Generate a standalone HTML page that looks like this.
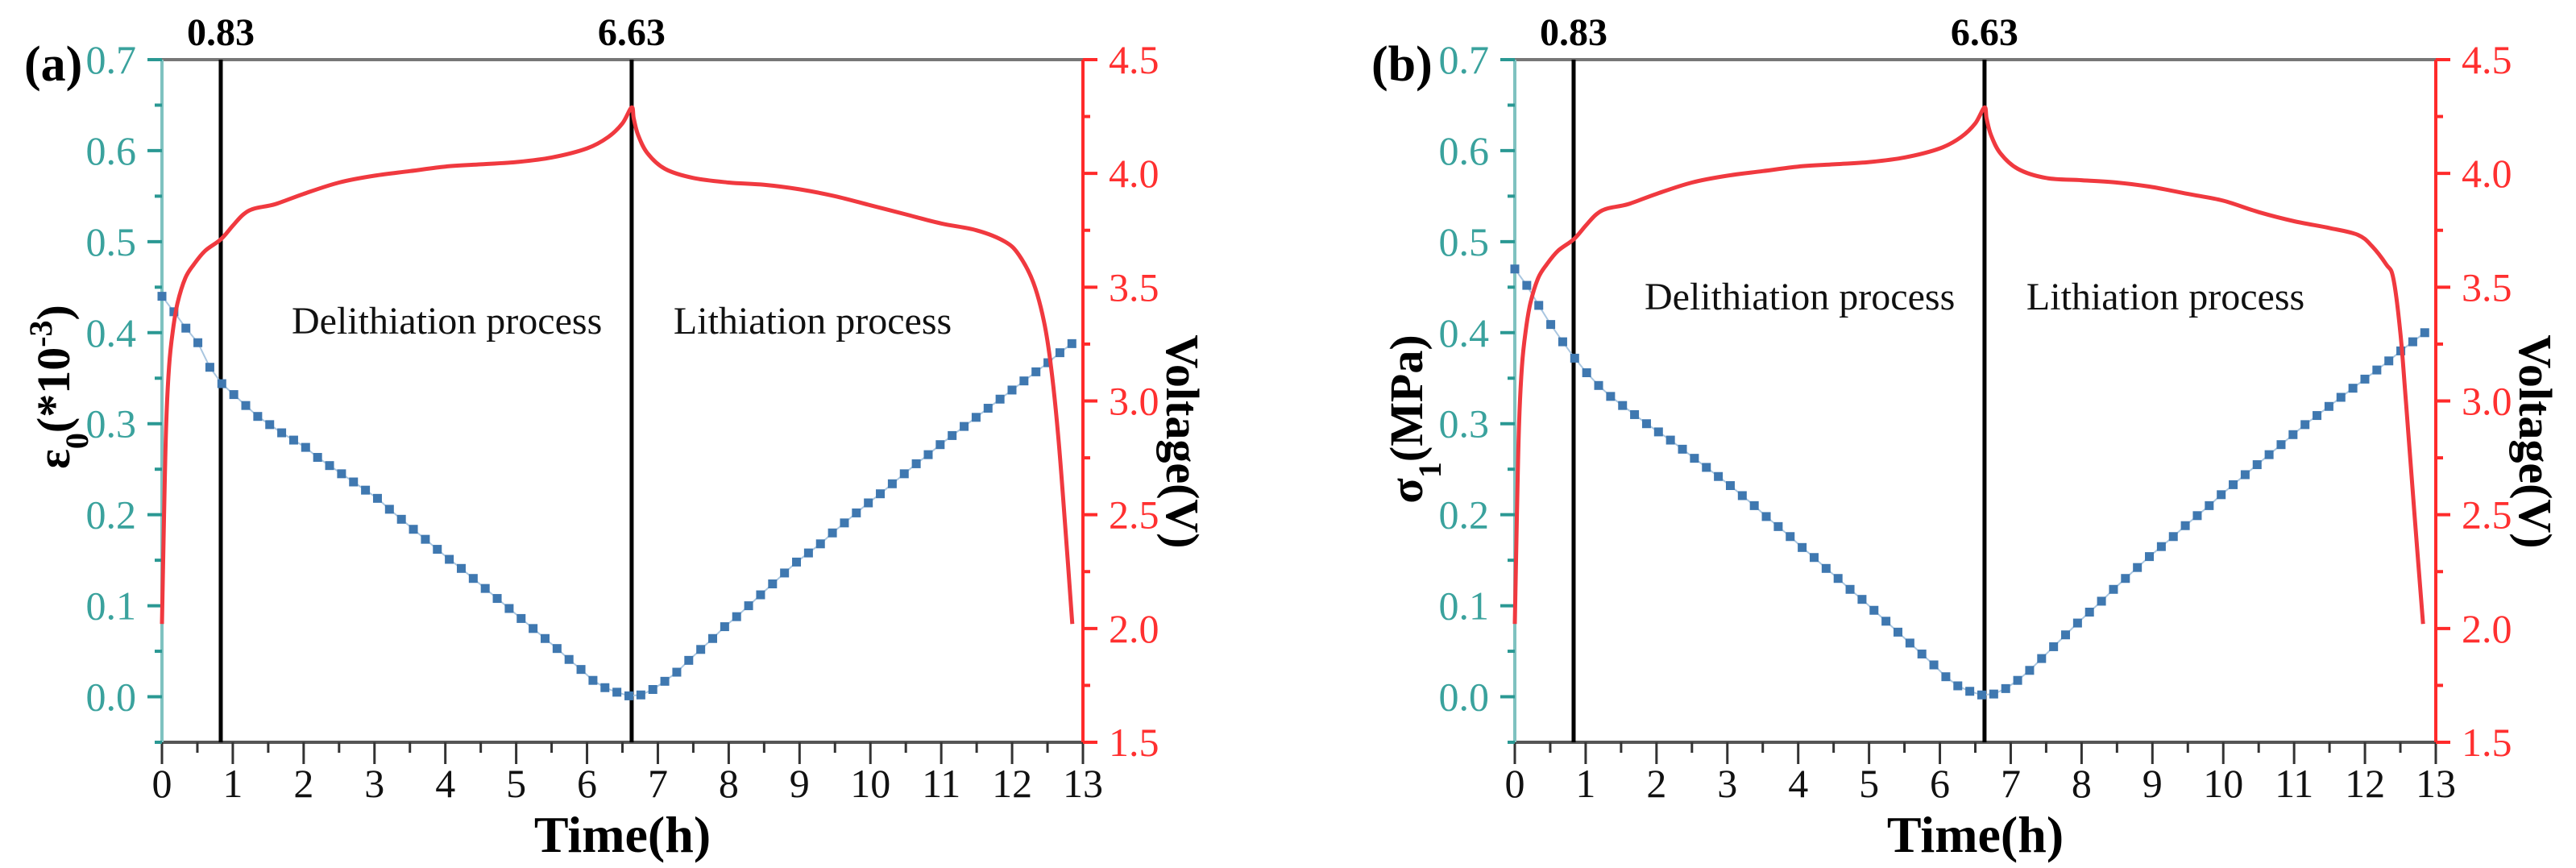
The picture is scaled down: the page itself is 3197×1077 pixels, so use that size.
<!DOCTYPE html>
<html><head><meta charset="utf-8"><style>
html,body{margin:0;padding:0;background:#fff}
svg{display:block}
text{font-family:"Liberation Serif",serif}
</style></head><body>
<svg id="fig" width="3197" height="1077" xmlns="http://www.w3.org/2000/svg"></svg>
<script>
// ---- data ----
const xTicks = [0,1,2,3,4,5,6,7,8,9,10,11,12,13];
const leftTicks = ["0.0","0.1","0.2","0.3","0.4","0.5","0.6","0.7"];
const rightTicks = ["1.5","2.0","2.5","3.0","3.5","4.0","4.5"];
const markerLines = [0.83, 6.63];
const blueTimes = [0,0.169,0.338,0.507,0.676,0.845,1.014,1.183,1.352,1.521,1.69,1.859,2.028,2.197,2.366,2.535,2.704,2.873,3.042,3.211,3.38,3.549,3.718,3.887,4.056,4.225,4.394,4.563,4.732,4.901,5.07,5.239,5.408,5.577,5.746,5.915,6.084,6.253,6.422,6.591,6.76,6.929,7.098,7.267,7.436,7.605,7.774,7.943,8.112,8.281,8.45,8.619,8.788,8.957,9.126,9.295,9.464,9.633,9.802,9.971,10.14,10.309,10.478,10.647,10.816,10.985,11.154,11.323,11.492,11.661,11.83,11.999,12.168,12.337,12.506,12.675,12.844];
const strainA = [.440,.423,.405,.389,.362,.344,.332,.320,.308,.299,.290,.282,.274,.263,.254,.245,.236,.227,.218,.206,.195,.184,.173,.162,.151,.141,.130,.119,.108,.097,.086,.075,.064,.053,.041,.030,.018,.010,.005,.001,.002,.008,.017,.027,.040,.052,.064,.077,.088,.100,.112,.124,.136,.148,.158,.168,.180,.191,.202,.213,.223,.234,.245,.256,.266,.277,.287,.297,.307,.317,.327,.337,.347,.357,.367,.378,.388];
const stressB = [.470,.452,.430,.409,.390,.372,.356,.342,.330,.320,.310,.300,.291,.282,.272,.262,.252,.242,.232,.221,.210,.198,.187,.176,.164,.153,.141,.130,.118,.107,.095,.083,.071,.059,.047,.035,.022,.012,.006,.002,.003,.009,.018,.029,.042,.055,.068,.081,.093,.105,.118,.130,.142,.154,.165,.176,.188,.199,.210,.222,.233,.244,.255,.266,.277,.288,.299,.309,.319,.329,.339,.349,.359,.369,.380,.390,.400];
const voltTimesA = [0,0.03,0.06,0.1,0.15,0.22,0.33,0.45,0.61,0.83,1.0,1.15,1.3,1.6,2.0,2.5,3.0,3.5,4.0,4.5,5.0,5.5,6.0,6.3,6.5,6.63,6.66,6.72,6.85,7.1,7.5,8.0,8.5,9.0,9.5,10.0,10.5,11.0,11.5,11.9,12.1,12.3,12.45,12.55,12.65,12.75,12.85];
const voltA = [2.02,2.5,2.9,3.15,3.3,3.43,3.54,3.60,3.66,3.71,3.77,3.82,3.845,3.865,3.91,3.96,3.99,4.01,4.03,4.04,4.05,4.07,4.11,4.16,4.22,4.29,4.24,4.17,4.09,4.02,3.98,3.96,3.95,3.93,3.90,3.86,3.82,3.78,3.75,3.70,3.64,3.52,3.35,3.15,2.85,2.45,2.02];
const voltTimesB = [0,0.03,0.06,0.1,0.15,0.22,0.33,0.45,0.61,0.83,1.0,1.15,1.3,1.6,2.0,2.5,3.0,3.5,4.0,4.5,5.0,5.5,6.0,6.3,6.5,6.63,6.66,6.72,6.85,7.1,7.5,8.0,8.5,9.0,9.5,10.0,10.5,11.0,11.5,11.9,12.1,12.3,12.4,12.5,12.58,12.7,12.82];
const voltB = [2.02,2.5,2.9,3.15,3.3,3.43,3.54,3.60,3.66,3.71,3.77,3.82,3.845,3.865,3.91,3.96,3.99,4.01,4.03,4.04,4.05,4.07,4.11,4.16,4.22,4.29,4.24,4.17,4.09,4.02,3.98,3.97,3.96,3.94,3.91,3.88,3.83,3.79,3.76,3.73,3.68,3.60,3.54,3.30,2.99,2.5,2.02];

const NS = "http://www.w3.org/2000/svg";
const svg = document.getElementById('fig');
function mk(tag, attrs, parent){const e=document.createElementNS(NS,tag);for(const k in attrs)e.setAttribute(k,attrs[k]);(parent||svg).appendChild(e);return e;}

const L=201,R=1344,T=74,B=921;
function smoothPath(pts){
  let d="M"+pts[0][0].toFixed(1)+","+pts[0][1].toFixed(1);
  for(let i=0;i<pts.length-1;i++){
    const p0=pts[Math.max(0,i-1)],p1=pts[i],p2=pts[i+1],p3=pts[Math.min(pts.length-1,i+2)];
    const c1x=p1[0]+(p2[0]-p0[0])/6,c1y=p1[1]+(p2[1]-p0[1])/6;
    const c2x=p2[0]-(p3[0]-p1[0])/6,c2y=p2[1]-(p3[1]-p1[1])/6;
    d+=" C"+c1x.toFixed(1)+","+c1y.toFixed(1)+" "+c2x.toFixed(1)+","+c2y.toFixed(1)+" "+p2[0].toFixed(1)+","+p2[1].toFixed(1);
  }
  return d;
}

function panel(off, blue, vt, vv, letter, yTitleParts, delY, titleCY){
  const g=mk('g',{transform:'translate('+off+',0)'});
  
  
  const xs=t=>L+(t/13)*(R-L);
  const yl=v=>B-((v+0.05)/0.75)*(B-T);
  const yr=v=>B-((v-1.5)/3)*(B-T);
  const top=mk('line',{x1:L,y1:T,x2:R,y2:T,stroke:'#777',"stroke-width":4},g);
  
  
  const xa=mk('line',{x1:L,y1:B,x2:R,y2:B,stroke:'#555',"stroke-width":4},g);
  
  
  for(let i=0;i<xTicks.length;i++){
    const x=xs(xTicks[i]);
    mk('line',{x1:x,y1:B,x2:x,y2:B+27,stroke:'#333',"stroke-width":3},g);
    if(i<xTicks.length-1){const xm=xs(xTicks[i]+0.5);mk('line',{x1:xm,y1:B,x2:xm,y2:B+13,stroke:'#333',"stroke-width":3},g);}
    const t=mk('text',{x:x,y:989,"font-size":50,"text-anchor":"middle",fill:'#111'},g);
    t.textContent=xTicks[i];
    
    
  }
  const la=mk('line',{x1:L,y1:T,x2:L,y2:B,stroke:'#7fc2c0',"stroke-width":4},g);
  
  
  for(let i=0;i<leftTicks.length;i++){
    const v=parseFloat(leftTicks[i]);const y=yl(v);
    mk('line',{x1:L-18,y1:y,x2:L,y2:y,stroke:'#2a9893',"stroke-width":4},g);
    const ym=yl(v-0.05);mk('line',{x1:L-9,y1:ym,x2:L,y2:ym,stroke:'#2a9893',"stroke-width":4},g);
    const t=mk('text',{x:L-32,y:y+17,"font-size":50,"text-anchor":"end",fill:'#3aa29d'},g);
    t.textContent=leftTicks[i];
    
    
  }
  const ra=mk('line',{x1:R,y1:T,x2:R,y2:B,stroke:'#ff2a2a',"stroke-width":4},g);
  
  
  for(let i=0;i<rightTicks.length;i++){
    const v=parseFloat(rightTicks[i]);const y=yr(v);
    mk('line',{x1:R,y1:y,x2:R+18,y2:y,stroke:'#ff2a2a',"stroke-width":4},g);
    if(i<rightTicks.length-1){const ym=yr(v+0.25);mk('line',{x1:R,y1:ym,x2:R+9,y2:ym,stroke:'#ff2a2a',"stroke-width":4},g);}
    const t=mk('text',{x:R+32,y:y+17,"font-size":50,fill:'#ff3030'},g);
    t.textContent=rightTicks[i];
    
    
  }
  for(const m of markerLines){
    const x=xs(m);
    const ln=mk('line',{x1:x,y1:T,x2:x,y2:B,stroke:'#000',"stroke-width":5},g);
    
    
    const t=mk('text',{x:x,y:56,"font-size":48,"font-weight":"bold","text-anchor":"middle",fill:'#000'},g);
    t.textContent=m.toFixed(2);
    
    
  }
  const bl=mk('polyline',{points:blueTimes.map((t,i)=>xs(t)+","+yl(blue[i])).join(" "),fill:'none',stroke:'#a9c6e0',"stroke-width":2},g);
  
  
  for(let i=0;i<blue.length;i++){
    const r=mk('rect',{x:xs(blueTimes[i])-5.5,y:yl(blue[i])-5.5,width:11,height:11,fill:'#3f78b0'},g);
    
    
  }
  const vp=mk('path',{d:smoothPath(vt.map((t,i)=>[xs(t),yr(vv[i])])),fill:'none',stroke:'#f0393f',"stroke-width":5},g);
  
  
  const d1=mk('text',{x:362,y:delY,"font-size":48,fill:'#111'},g);
  d1.textContent='Delithiation process';
  
  
  const d2=mk('text',{x:xs(6.63)+52,y:delY,"font-size":48,fill:'#111'},g);
  d2.textContent='Lithiation process';
  
  
  const lt=mk('text',{x:letter==='a'?30:23,y:100,"font-size":62,"font-weight":"bold",fill:'#000'},g);
  lt.textContent='('+letter+')';
  
  
  const xt=mk('text',{x:(L+R)/2,y:1057,"font-size":64,"font-weight":"bold","text-anchor":"middle",fill:'#000'},g);
  xt.textContent='Time(h)';
  
  
  const yt=mk('text',{transform:'translate(86,'+titleCY+') rotate(-90)',"font-size":58,"font-weight":"bold","text-anchor":"middle",fill:'#000'},g);
  
  
  for(const p of yTitleParts){
    const s=mk('tspan',{},yt);
    if(p[1]==='sub'){s.setAttribute('baseline-shift','sub');s.setAttribute('font-size','40');}
    if(p[1]==='sup'){s.setAttribute('baseline-shift','super');s.setAttribute('font-size','40');}
    s.textContent=p[0];
  }
  const rt=mk('text',{transform:'translate(1448,548) rotate(90)',"font-size":58,"font-weight":"bold","text-anchor":"middle",fill:'#000'},g);
  rt.textContent='Voltage(V)';
  
  
}
panel(0, strainA, voltTimesA, voltA, 'a', [['ε',''],['0','sub'],['(*10',''],['-3','sup'],[')','']], 414, 480);
panel(1679, stressB, voltTimesB, voltB, 'b', [['σ',''],['1','sub'],['(MPa)','']], 384, 520);
</script>
</body></html>
